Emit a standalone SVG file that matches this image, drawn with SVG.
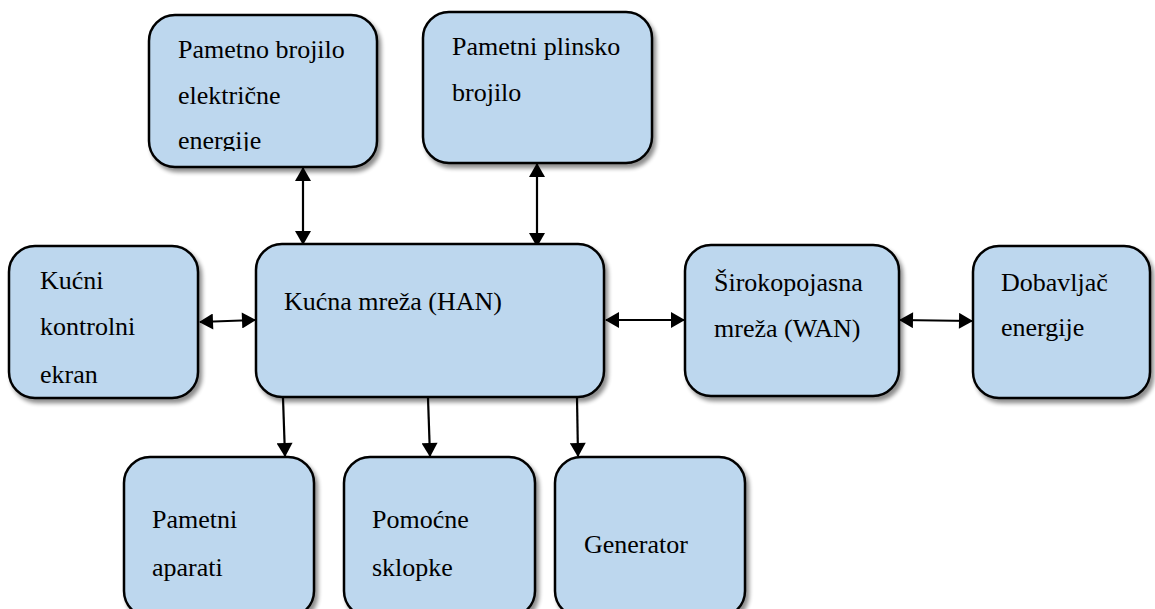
<svg xmlns="http://www.w3.org/2000/svg" width="1155" height="609" viewBox="0 0 1155 609">
<defs>
<style>
.box{fill:#BDD7EE;stroke:#000;stroke-width:2.5;filter:url(#sh)}
.t{font-family:"Times New Roman",Tinos,"Nimbus Roman","Noto Serif",FreeSerif,"Liberation Serif",serif;font-size:26px;fill:#000}
.c{stroke:#000;stroke-width:2.2;fill:none;marker-end:url(#ah)}
.cb{stroke:#000;stroke-width:2.2;fill:none;marker-start:url(#ahs);marker-end:url(#ah)}
</style>
<filter id="sh" x="-10%" y="-10%" width="125%" height="125%">
<feGaussianBlur in="SourceAlpha" stdDeviation="2"/>
<feOffset dx="3" dy="4" result="o"/>
<feComponentTransfer><feFuncA type="linear" slope="0.45"/></feComponentTransfer>
<feMerge><feMergeNode/><feMergeNode in="SourceGraphic"/></feMerge>
</filter>
<marker id="ah" markerWidth="16" markerHeight="16" viewBox="0 0 14 16" refX="13" refY="8" orient="auto" markerUnits="userSpaceOnUse">
<path d="M0,0 L14,8 L0,16 Z" fill="#000"/>
</marker>
<marker id="ahs" markerWidth="16" markerHeight="16" viewBox="0 0 14 16" refX="1" refY="8" orient="auto" markerUnits="userSpaceOnUse">
<path d="M14,0 L0,8 L14,16 Z" fill="#000"/>
</marker>
<clipPath id="clip1"><rect x="149" y="15" width="228" height="136"/></clipPath>
</defs>
<g id="connectors">
<line class="cb" x1="303" y1="168" x2="303" y2="244"/>
<line class="cb" x1="537" y1="164" x2="537" y2="246"/>
<line class="cb" x1="200" y1="322" x2="255" y2="320"/>
<line class="cb" x1="606" y1="320" x2="684" y2="320"/>
<line class="cb" x1="900" y1="320" x2="972" y2="321"/>
<line class="c" x1="283" y1="398" x2="285" y2="456"/>
<line class="c" x1="428" y1="398" x2="430" y2="456"/>
<line class="c" x1="577" y1="398" x2="578" y2="456"/>
</g>
<g id="n-elektro">
<rect class="box" x="149" y="15" width="228" height="152" rx="26"/>
<g clip-path="url(#clip1)">
<text class="t" x="178" y="58">Pametno brojilo</text>
<text class="t" x="178" y="104">električne</text>
<text class="t" x="178" y="149">energije</text>
</g>
</g>
<g id="n-plin">
<rect class="box" x="423" y="12" width="229" height="151" rx="26"/>
<text class="t" x="452" y="55">Pametni plinsko</text>
<text class="t" x="452" y="101">brojilo</text>
</g>
<g id="n-ekran">
<rect class="box" x="9" y="246" width="189" height="152" rx="26"/>
<text class="t" x="40" y="289">Kućni</text>
<text class="t" x="40" y="335">kontrolni</text>
<text class="t" x="40" y="383">ekran</text>
</g>
<g id="n-han">
<rect class="box" x="256" y="244" width="348" height="153" rx="26"/>
<text class="t" x="284" y="310">Kućna mreža (HAN)</text>
</g>
<g id="n-wan">
<rect class="box" x="685" y="245" width="214" height="151" rx="26"/>
<text class="t" x="714" y="291">Širokopojasna</text>
<text class="t" x="714" y="337">mreža (WAN)</text>
</g>
<g id="n-dob">
<rect class="box" x="973" y="246" width="177" height="152" rx="26"/>
<text class="t" x="1001" y="291">Dobavljač</text>
<text class="t" x="1001" y="336">energije</text>
</g>
<g id="n-aparati">
<rect class="box" x="124" y="457" width="190" height="160" rx="26"/>
<text class="t" x="152" y="528">Pametni</text>
<text class="t" x="152" y="576">aparati</text>
</g>
<g id="n-sklopke">
<rect class="box" x="344" y="457" width="191" height="160" rx="26"/>
<text class="t" x="372" y="528">Pomoćne</text>
<text class="t" x="372" y="576">sklopke</text>
</g>
<g id="n-gen">
<rect class="box" x="555" y="457" width="190" height="160" rx="26"/>
<text class="t" x="584" y="553">Generator</text>
</g>
</svg>
